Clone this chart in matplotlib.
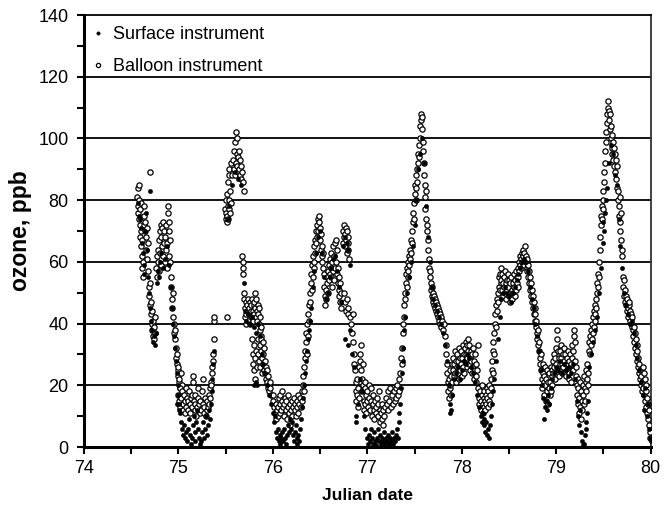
import matplotlib
matplotlib.use("Agg")
import matplotlib.pyplot as plt
from matplotlib.ticker import MultipleLocator

plt.rcParams['font.family'] = ['Liberation Sans', 'DejaVu Sans']

# (Julian date, ozone ppb)
balloon = [
    # first morning cluster
    (74.565, 81), (74.57, 78), (74.572, 84), (74.575, 76), (74.58, 85), (74.58, 80), (74.585, 74),
    (74.588, 72), (74.59, 77), (74.595, 68), (74.60, 79), (74.60, 70), (74.605, 65), (74.61, 62),
    (74.612, 67), (74.615, 58), (74.62, 60), (74.625, 55), (74.63, 75), (74.635, 72), (74.64, 78),
    (74.645, 70), (74.65, 73), (74.655, 68), (74.66, 64), (74.665, 71), (74.67, 61), (74.675, 57),
    (74.68, 66), (74.685, 52), (74.69, 49), (74.695, 53), (74.70, 89), (74.70, 46), (74.705, 43),
    (74.71, 47), (74.715, 40), (74.72, 44), (74.725, 38), (74.73, 41), (74.735, 36), (74.74, 39),
    (74.745, 35), (74.75, 42), (74.755, 37),
    (74.765, 58), (74.77, 62), (74.775, 55), (74.78, 64), (74.785, 60), (74.79, 67), (74.795, 57),
    (74.80, 70), (74.805, 63), (74.81, 72), (74.815, 59), (74.82, 68), (74.825, 65), (74.83, 71),
    (74.835, 62), (74.84, 73), (74.845, 66), (74.85, 70), (74.855, 60), (74.86, 68), (74.865, 64),
    (74.87, 72), (74.875, 58), (74.88, 66), (74.885, 76), (74.89, 78), (74.895, 70), (74.90, 62),
    (74.905, 73), (74.91, 67), (74.915, 60),
    (74.92, 55), (74.925, 52), (74.93, 48), (74.935, 45), (74.94, 50), (74.945, 42), (74.95, 40),
    (74.955, 37), (74.96, 35), (74.965, 38), (74.97, 32), (74.975, 29), (74.98, 27), (74.985, 30),
    (74.99, 25), (74.995, 23), (75.00, 26), (75.005, 21), (75.01, 22), (75.02, 19), (75.03, 24),
    (75.035, 20),
    (75.00, 17), (75.01, 15), (75.015, 19), (75.02, 13), (75.03, 16), (75.04, 18), (75.045, 12),
    (75.05, 14), (75.06, 17), (75.065, 11), (75.07, 15), (75.08, 19), (75.085, 13), (75.09, 16),
    (75.10, 12), (75.105, 15), (75.11, 18), (75.12, 14), (75.125, 11), (75.13, 16), (75.14, 13),
    (75.145, 17), (75.15, 23), (75.155, 21), (75.16, 15), (75.17, 12), (75.175, 14), (75.18, 17),
    (75.19, 10), (75.20, 13), (75.205, 16), (75.21, 19), (75.22, 14), (75.225, 11), (75.23, 15),
    (75.24, 12), (75.25, 18), (75.255, 22), (75.26, 14), (75.27, 11), (75.275, 13), (75.28, 16),
    (75.29, 10), (75.30, 12), (75.305, 15), (75.31, 13), (75.32, 17), (75.325, 14), (75.33, 19),
    (75.335, 16), (75.34, 21), (75.345, 20), (75.35, 24), (75.36, 26), (75.365, 28), (75.37, 30),
    (75.375, 35), (75.38, 41), (75.38, 42), (75.51, 42),
    # second peak
    (75.495, 77), (75.50, 74), (75.50, 80), (75.505, 76), (75.51, 73), (75.51, 82), (75.515, 75),
    (75.52, 78), (75.52, 86), (75.525, 74), (75.53, 77), (75.53, 88), (75.535, 80), (75.54, 90),
    (75.545, 76), (75.55, 83), (75.555, 79), (75.56, 92), (75.565, 88),
    (75.58, 93), (75.585, 90), (75.59, 96), (75.595, 88), (75.60, 99), (75.605, 92), (75.61, 102),
    (75.615, 95), (75.62, 100), (75.625, 91), (75.63, 94), (75.635, 89), (75.64, 96), (75.645, 90),
    (75.65, 93), (75.655, 88), (75.66, 91), (75.665, 87), (75.67, 89), (75.68, 86), (75.69, 83),
    (75.675, 62), (75.68, 60), (75.68, 58), (75.685, 56), (75.69, 48), (75.695, 50),
    (75.70, 45), (75.705, 42), (75.71, 47), (75.715, 43), (75.72, 40), (75.725, 46), (75.73, 44),
    (75.735, 48), (75.74, 41), (75.745, 45), (75.75, 43), (75.755, 47), (75.76, 40), (75.765, 44),
    (75.77, 46), (75.775, 42), (75.78, 48), (75.785, 44), (75.79, 41), (75.795, 46), (75.80, 43),
    (75.805, 47), (75.81, 45), (75.815, 50), (75.82, 42), (75.825, 48), (75.83, 44), (75.835, 41),
    (75.84, 46), (75.845, 43), (75.85, 40), (75.855, 45), (75.86, 38), (75.865, 42), (75.87, 36),
    (75.875, 39),
    (75.78, 35), (75.785, 30), (75.79, 27), (75.795, 33), (75.80, 25), (75.81, 22), (75.815, 29),
    (75.82, 31), (75.83, 26), (75.84, 35), (75.845, 30), (75.85, 28), (75.86, 33), (75.865, 26),
    (75.87, 31), (75.875, 35), (75.88, 29), (75.885, 24), (75.89, 34), (75.895, 27), (75.90, 30),
    (75.905, 25), (75.91, 32), (75.915, 28), (75.92, 24), (75.925, 26), (75.93, 22), (75.935, 25),
    (75.94, 21), (75.945, 19), (75.95, 23), (75.955, 20), (75.96, 18), (75.965, 21), (75.97, 19),
    (75.98, 17),
    (76.00, 15), (76.005, 17), (76.01, 13), (76.02, 11), (76.03, 14), (76.035, 9), (76.04, 12),
    (76.05, 10), (76.055, 13), (76.06, 16), (76.07, 11), (76.075, 14), (76.08, 17), (76.09, 12),
    (76.095, 15), (76.10, 18), (76.11, 13), (76.115, 10), (76.12, 14), (76.13, 16), (76.135, 12),
    (76.14, 15), (76.15, 9), (76.16, 13), (76.165, 17), (76.17, 11), (76.18, 14), (76.185, 7),
    (76.19, 12), (76.20, 15), (76.205, 10), (76.21, 13), (76.22, 16), (76.23, 12), (76.235, 14),
    (76.24, 10), (76.25, 15), (76.26, 13), (76.265, 17), (76.27, 11), (76.28, 14), (76.29, 16),
    (76.30, 13), (76.305, 18), (76.31, 15),
    # third peak
    (76.315, 20), (76.32, 23), (76.325, 18), (76.33, 26), (76.335, 29), (76.345, 31), (76.35, 34),
    (76.355, 37), (76.36, 30), (76.365, 40), (76.37, 36), (76.375, 43), (76.38, 46), (76.385, 41),
    (76.39, 50), (76.395, 47), (76.40, 53), (76.405, 56), (76.41, 51), (76.415, 59), (76.42, 55),
    (76.425, 62), (76.43, 60), (76.435, 65), (76.44, 58), (76.445, 67), (76.45, 63), (76.455, 70),
    (76.46, 66), (76.465, 72), (76.47, 68), (76.475, 74), (76.48, 70), (76.485, 75), (76.49, 73),
    (76.495, 67), (76.50, 71), (76.505, 64), (76.51, 69), (76.515, 62), (76.52, 65), (76.525, 60),
    (76.53, 63), (76.535, 58), (76.54, 56),
    (76.545, 52), (76.55, 49), (76.555, 46), (76.56, 51), (76.565, 48), (76.57, 53), (76.575, 55),
    (76.58, 50), (76.585, 57), (76.59, 54), (76.595, 59), (76.60, 56), (76.605, 61), (76.61, 58),
    (76.615, 63), (76.62, 55), (76.625, 60), (76.63, 52), (76.635, 57), (76.64, 65), (76.645, 54),
    (76.65, 62), (76.655, 58), (76.66, 66), (76.665, 60), (76.67, 67), (76.675, 64), (76.68, 56),
    (76.685, 53), (76.69, 58), (76.695, 51), (76.70, 55), (76.705, 49), (76.71, 53), (76.715, 47),
    (76.72, 45), (76.725, 50),
    (76.74, 66), (76.745, 70), (76.75, 68), (76.755, 72), (76.76, 69), (76.765, 65), (76.77, 71),
    (76.775, 67), (76.78, 70), (76.785, 63), (76.79, 68), (76.795, 64), (76.80, 66), (76.805, 61),
    (76.75, 50), (76.76, 47), (76.77, 44), (76.78, 48), (76.79, 43), (76.80, 45), (76.82, 42),
    (76.83, 40), (76.84, 37), (76.845, 34), (76.85, 43), (76.855, 30), (76.86, 27),
    (76.87, 25), (76.875, 21), (76.88, 18), (76.885, 15), (76.89, 22), (76.895, 17), (76.90, 13),
    (76.905, 19), (76.91, 16), (76.915, 26), (76.92, 30), (76.925, 28), (76.93, 33), (76.935, 25),
    (76.94, 22), (76.945, 18), (76.95, 27), (76.955, 20), (76.96, 15), (76.965, 12), (76.97, 19),
    (76.975, 14), (76.98, 21), (76.985, 17), (76.99, 11), (76.995, 15), (77.00, 18), (77.01, 13),
    (77.015, 20), (77.02, 16), (77.03, 12), (77.035, 19), (77.04, 15), (77.05, 10), (77.055, 14),
    (77.06, 17), (77.07, 12), (77.075, 9), (77.08, 15), (77.09, 11), (77.095, 13), (77.10, 16),
    (77.11, 10), (77.115, 14), (77.12, 18), (77.13, 12), (77.135, 8), (77.14, 11), (77.15, 14),
    (77.16, 9), (77.165, 12), (77.17, 7), (77.18, 10), (77.19, 13), (77.20, 16), (77.21, 14),
    (77.215, 18), (77.22, 12), (77.23, 15), (77.24, 19), (77.25, 13), (77.26, 17), (77.27, 14),
    (77.28, 18), (77.29, 15), (77.30, 19), (77.305, 16), (77.31, 20), (77.32, 17), (77.33, 22),
    (77.34, 18),
    # fourth peak
    (77.35, 24), (77.36, 29), (77.365, 27), (77.37, 32), (77.375, 37), (77.38, 40), (77.385, 42),
    (77.39, 46), (77.395, 50), (77.40, 48), (77.405, 53), (77.41, 56), (77.415, 52), (77.42, 58),
    (77.425, 55), (77.43, 60), (77.435, 57), (77.44, 62), (77.445, 59), (77.45, 64), (77.455, 61),
    (77.46, 67), (77.465, 63), (77.47, 70), (77.475, 66), (77.48, 73), (77.485, 76), (77.49, 79),
    (77.495, 74), (77.50, 82), (77.505, 85), (77.51, 80), (77.515, 88), (77.52, 84), (77.525, 90),
    (77.53, 86), (77.535, 92), (77.54, 95), (77.545, 98), (77.55, 94), (77.555, 100), (77.56, 104),
    (77.565, 106), (77.57, 108), (77.575, 103), (77.58, 107), (77.585, 99), (77.59, 96),
    (77.595, 92), (77.60, 88), (77.605, 85), (77.61, 81), (77.615, 77), (77.62, 83), (77.625, 74),
    (77.63, 70), (77.635, 72), (77.64, 67), (77.645, 64), (77.65, 61), (77.655, 58), (77.66, 55),
    (77.665, 57), (77.67, 53), (77.675, 51), (77.68, 49), (77.685, 52), (77.69, 48), (77.695, 50),
    (77.70, 47), (77.705, 49), (77.71, 46), (77.715, 48), (77.72, 45), (77.725, 47), (77.73, 44),
    (77.735, 46), (77.74, 43), (77.745, 45), (77.75, 42), (77.755, 44), (77.76, 41), (77.765, 43),
    (77.77, 40), (77.775, 42), (77.78, 39), (77.79, 41), (77.80, 38), (77.81, 40), (77.82, 36),
    (77.83, 33), (77.835, 30), (77.84, 27), (77.845, 24), (77.85, 21),
    (77.855, 18), (77.86, 16), (77.865, 22), (77.87, 19), (77.875, 25), (77.88, 20), (77.885, 17),
    (77.89, 23), (77.895, 27), (77.90, 21), (77.905, 25), (77.91, 29), (77.915, 23), (77.92, 27),
    (77.925, 31), (77.93, 24), (77.935, 28), (77.94, 21), (77.945, 26), (77.95, 30), (77.955, 24),
    (77.96, 28), (77.965, 32), (77.97, 26), (77.975, 22), (77.98, 29), (77.985, 25), (77.99, 31),
    (77.995, 27), (78.00, 23), (78.005, 29), (78.01, 33), (78.015, 26), (78.02, 30), (78.025, 24),
    (78.03, 32), (78.035, 28), (78.04, 34), (78.045, 30), (78.05, 26), (78.055, 33), (78.06, 29),
    (78.065, 35), (78.07, 31), (78.075, 27), (78.08, 33), (78.085, 29), (78.09, 25), (78.095, 31),
    (78.10, 28), (78.105, 24), (78.11, 30), (78.115, 26), (78.12, 32), (78.125, 22), (78.13, 28),
    (78.135, 25), (78.14, 30), (78.145, 23), (78.15, 27), (78.155, 21), (78.16, 25), (78.17, 33),
    (78.175, 19), (78.18, 16), (78.185, 14), (78.19, 18), (78.20, 15), (78.205, 12), (78.21, 17),
    (78.215, 20), (78.22, 14), (78.225, 11), (78.23, 16), (78.235, 13), (78.24, 18), (78.245, 15),
    (78.25, 12), (78.255, 17), (78.26, 14), (78.265, 19), (78.27, 16), (78.275, 13), (78.28, 18),
    (78.285, 15), (78.29, 20), (78.295, 17), (78.30, 14), (78.305, 19), (78.31, 22),
    # fifth peak
    (78.315, 25), (78.32, 28), (78.325, 24), (78.33, 31), (78.335, 34), (78.34, 30), (78.345, 37),
    (78.35, 40), (78.355, 43), (78.36, 39), (78.365, 46), (78.37, 44), (78.375, 48), (78.38, 50),
    (78.385, 47), (78.39, 52), (78.395, 55), (78.40, 51), (78.405, 56), (78.41, 53), (78.415, 58),
    (78.42, 54), (78.425, 51), (78.43, 56), (78.435, 53), (78.44, 49),
    (78.445, 52), (78.45, 55), (78.455, 50), (78.46, 57), (78.465, 53), (78.47, 48), (78.475, 54),
    (78.48, 51), (78.485, 56), (78.49, 52), (78.495, 49), (78.50, 54), (78.505, 50), (78.51, 47),
    (78.515, 53), (78.52, 49), (78.525, 55), (78.53, 51), (78.535, 48), (78.54, 53), (78.545, 50),
    (78.55, 56), (78.555, 52), (78.56, 49), (78.565, 54), (78.57, 51), (78.575, 57), (78.58, 53),
    (78.585, 55), (78.59, 52), (78.595, 58), (78.60, 55), (78.605, 60), (78.61, 57), (78.615, 62),
    (78.62, 59), (78.625, 61), (78.63, 58), (78.635, 63), (78.64, 60), (78.645, 64), (78.65, 62),
    (78.655, 59), (78.66, 63), (78.665, 61), (78.67, 65), (78.675, 62), (78.68, 60), (78.685, 58),
    (78.69, 61), (78.695, 57), (78.70, 59), (78.705, 55), (78.71, 57), (78.715, 53), (78.72, 55),
    (78.725, 51), (78.73, 53), (78.735, 49), (78.74, 51), (78.745, 47), (78.75, 49), (78.755, 45),
    (78.76, 47), (78.765, 43), (78.77, 45), (78.775, 41), (78.78, 43), (78.785, 39), (78.79, 41),
    (78.795, 37), (78.80, 35), (78.805, 38), (78.81, 33), (78.815, 31), (78.82, 34), (78.825, 29),
    (78.83, 27), (78.835, 30),
    (78.84, 25), (78.845, 22), (78.85, 19), (78.855, 24), (78.86, 27), (78.865, 21), (78.87, 17),
    (78.875, 23), (78.88, 26), (78.885, 20), (78.89, 15), (78.895, 22), (78.90, 18), (78.905, 25),
    (78.91, 21), (78.915, 14), (78.92, 19), (78.925, 24), (78.93, 17), (78.935, 21), (78.94, 26),
    (78.945, 18), (78.95, 23), (78.955, 20), (78.96, 25),
    (78.965, 28), (78.97, 24), (78.975, 30), (78.98, 26), (78.985, 22), (78.99, 29), (78.995, 32),
    (79.00, 27), (79.005, 35), (79.01, 38), (79.015, 31), (79.02, 25), (79.025, 29), (79.03, 23),
    (79.035, 27), (79.04, 31), (79.045, 25), (79.05, 29), (79.055, 33), (79.06, 27), (79.065, 24),
    (79.07, 30), (79.075, 26), (79.08, 32), (79.085, 28), (79.09, 24), (79.095, 30), (79.10, 27),
    (79.105, 23), (79.11, 29), (79.115, 25), (79.12, 31), (79.125, 27), (79.13, 22), (79.135, 28),
    (79.14, 24), (79.145, 30), (79.15, 26), (79.155, 21), (79.16, 27), (79.165, 33), (79.17, 29),
    (79.175, 25), (79.18, 31), (79.185, 36), (79.19, 38), (79.195, 34), (79.20, 28), (79.205, 23),
    (79.21, 26),
    (79.215, 20), (79.22, 17), (79.225, 22), (79.23, 14), (79.235, 19), (79.24, 11), (79.245, 16),
    (79.25, 21), (79.255, 13), (79.26, 18), (79.265, 9), (79.27, 15), (79.275, 12), (79.28, 20),
    (79.285, 17), (79.29, 14), (79.295, 23), (79.30, 19), (79.305, 15), (79.31, 21), (79.315, 25),
    (79.32, 18), (79.325, 22), (79.33, 27), (79.335, 24), (79.34, 20),
    # sixth peak
    (79.345, 31), (79.35, 34), (79.355, 30), (79.36, 36), (79.365, 33), (79.37, 38), (79.375, 35),
    (79.38, 40), (79.385, 37), (79.39, 42), (79.395, 39), (79.40, 44), (79.405, 41), (79.41, 46),
    (79.415, 43), (79.42, 48), (79.425, 45), (79.43, 50), (79.435, 53), (79.44, 56), (79.445, 52),
    (79.45, 55), (79.455, 60), (79.46, 64), (79.465, 68), (79.47, 72), (79.475, 75), (79.48, 78),
    (79.485, 74), (79.49, 80), (79.495, 77), (79.50, 83), (79.505, 86), (79.51, 89), (79.515, 92),
    (79.52, 96), (79.525, 99), (79.53, 102), (79.535, 105), (79.54, 108), (79.545, 110),
    (79.55, 112), (79.555, 109), (79.56, 106), (79.565, 103), (79.57, 108), (79.575, 100),
    (79.58, 104), (79.585, 97), (79.59, 101), (79.595, 95), (79.60, 99), (79.605, 93), (79.61, 97),
    (79.615, 91), (79.62, 95), (79.625, 89), (79.63, 93), (79.635, 87), (79.64, 91), (79.645, 84),
    (79.65, 80), (79.655, 83), (79.66, 78), (79.665, 75), (79.67, 81), (79.675, 73), (79.68, 70),
    (79.685, 76), (79.69, 67), (79.695, 64), (79.70, 62),
    (79.705, 55), (79.71, 52), (79.715, 49), (79.72, 54), (79.725, 47), (79.73, 51), (79.735, 46),
    (79.74, 49), (79.745, 44), (79.75, 48), (79.755, 45), (79.76, 42), (79.765, 46), (79.77, 43),
    (79.775, 47), (79.78, 41), (79.785, 44), (79.79, 40), (79.795, 43), (79.80, 39), (79.805, 42),
    (79.81, 38), (79.815, 36), (79.82, 39), (79.825, 34), (79.83, 37), (79.835, 32), (79.84, 35),
    (79.845, 30), (79.85, 33), (79.855, 28), (79.86, 31), (79.865, 26), (79.87, 29), (79.875, 24),
    (79.88, 27), (79.885, 22), (79.89, 25), (79.895, 20), (79.90, 23), (79.905, 18), (79.91, 21),
    (79.915, 26), (79.92, 19), (79.925, 24), (79.93, 17), (79.935, 22), (79.94, 15), (79.945, 20),
    (79.95, 13), (79.955, 18), (79.96, 11), (79.965, 16), (79.97, 9), (79.975, 14), (79.98, 7),
    (79.985, 12), (79.99, 5), (79.995, 3),
]

surface = [
    (74.57, 79), (74.58, 75), (74.59, 74), (74.60, 71), (74.61, 66), (74.62, 63), (74.63, 59),
    (74.64, 56), (74.65, 70), (74.66, 76), (74.67, 64), (74.68, 55), (74.69, 50), (74.70, 83),
    (74.70, 45), (74.71, 41), (74.72, 38), (74.73, 34), (74.74, 36), (74.75, 33), (74.76, 37),
    (74.77, 53), (74.78, 57), (74.79, 55), (74.80, 60), (74.82, 63), (74.84, 58), (74.86, 61),
    (74.88, 65), (74.90, 59), (74.92, 52), (74.93, 45), (74.94, 40), (74.95, 36), (74.96, 32),
    (74.97, 28), (74.98, 24), (74.99, 20), (74.985, 14), (75.00, 17), (75.005, 12), (75.01, 14),
    (75.02, 11), (75.03, 8), (75.04, 6), (75.05, 4), (75.06, 7), (75.07, 3), (75.08, 5), (75.09, 2),
    (75.10, 6), (75.11, 9), (75.12, 4), (75.13, 1), (75.14, 3), (75.15, 7), (75.16, 10), (75.17, 5),
    (75.18, 2), (75.19, 8), (75.20, 12), (75.21, 6), (75.22, 3), (75.23, 1), (75.24, 2), (75.25, 5),
    (75.26, 8), (75.27, 3), (75.28, 6), (75.29, 10), (75.30, 4), (75.31, 7), (75.32, 12), (75.33, 9),
    (75.34, 14), (75.35, 18), (75.36, 22), (75.37, 27), (75.375, 31),
    (75.52, 74), (75.54, 78), (75.57, 85), (75.60, 89), (75.63, 87), (75.66, 85),
    (75.69, 53), (75.70, 44), (75.72, 41), (75.74, 43), (75.76, 40), (75.78, 42), (75.80, 39),
    (75.82, 37), (75.84, 40), (75.86, 36), (75.80, 20), (75.82, 21), (75.83, 20), (75.88, 30),
    (75.90, 27), (75.92, 24), (75.94, 20), (75.96, 17), (75.98, 14), (76.00, 11), (76.01, 8),
    (76.02, 10), (76.03, 5), (76.04, 3), (76.05, 6), (76.06, 2), (76.07, 4), (76.08, 1), (76.09, 3),
    (76.10, 5), (76.11, 2), (76.12, 6), (76.13, 3), (76.14, 1), (76.15, 4), (76.16, 7), (76.17, 5),
    (76.18, 9), (76.19, 6), (76.20, 8), (76.21, 4), (76.22, 2), (76.23, 5), (76.24, 7), (76.25, 3),
    (76.26, 1), (76.27, 4), (76.28, 2), (76.29, 6), (76.30, 9), (76.31, 13), (76.32, 16),
    (76.33, 20), (76.34, 24), (76.35, 28), (76.36, 31), (76.37, 35), (76.38, 38), (76.39, 41),
    (76.40, 45), (76.42, 52), (76.44, 57), (76.46, 63), (76.48, 68), (76.50, 70), (76.52, 63),
    (76.54, 55), (76.56, 48), (76.58, 50), (76.60, 55), (76.62, 58), (76.64, 61), (76.66, 62),
    (76.68, 57), (76.70, 52), (76.72, 47), (76.74, 65), (76.76, 68), (76.78, 66), (76.80, 64),
    (76.82, 59), (76.76, 35), (76.79, 33), (76.82, 38), (76.84, 30), (76.86, 26), (76.88, 10),
    (76.885, 8), (76.90, 14), (76.92, 22), (76.94, 18), (76.96, 10), (76.98, 6), (77.00, 3),
    (77.01, 1), (77.02, 4), (77.03, 2), (77.04, 6), (77.05, 3), (77.06, 1), (77.07, 5), (77.08, 2),
    (77.09, 0.5), (77.10, 3), (77.11, 6), (77.12, 2), (77.13, 4), (77.14, 1), (77.15, 3),
    (77.16, 0.5), (77.17, 2), (77.18, 5), (77.19, 1), (77.20, 3), (77.21, 2), (77.22, 4), (77.23, 1),
    (77.24, 3), (77.25, 2), (77.26, 5), (77.27, 1), (77.28, 3), (77.29, 2), (77.30, 4), (77.31, 6),
    (77.32, 3), (77.33, 8), (77.34, 11), (77.35, 14), (77.36, 19), (77.37, 24), (77.375, 28),
    (77.38, 32), (77.39, 38), (77.40, 42), (77.42, 50), (77.44, 55), (77.46, 60), (77.48, 65),
    (77.50, 72), (77.52, 80), (77.54, 90), (77.56, 95), (77.58, 100), (77.60, 92), (77.62, 78),
    (77.64, 68), (77.66, 60), (77.68, 52), (77.70, 48), (77.72, 46), (77.74, 44), (77.76, 42),
    (77.78, 40), (77.80, 37), (77.82, 33), (77.84, 28), (77.86, 20), (77.87, 14), (77.88, 11),
    (77.89, 12), (77.90, 17), (77.92, 22), (77.94, 24), (77.96, 26), (77.98, 22), (78.00, 25),
    (78.02, 28), (78.04, 27), (78.06, 30), (78.08, 29), (78.10, 26), (78.12, 24), (78.14, 21),
    (78.16, 17), (78.18, 13), (78.20, 10), (78.21, 8), (78.22, 11), (78.23, 7), (78.24, 9),
    (78.25, 5), (78.26, 8), (78.27, 4), (78.28, 6), (78.29, 3), (78.30, 7), (78.31, 10),
    (78.32, 14), (78.33, 18), (78.34, 22), (78.36, 28), (78.38, 35), (78.40, 42), (78.42, 48),
    (78.44, 50), (78.46, 52), (78.48, 50), (78.50, 49), (78.52, 47), (78.54, 50), (78.56, 52),
    (78.58, 54), (78.60, 56), (78.62, 58), (78.64, 60), (78.66, 61), (78.68, 60), (78.70, 57),
    (78.72, 52), (78.74, 48), (78.76, 45), (78.78, 40), (78.80, 36), (78.82, 31), (78.84, 25),
    (78.85, 20), (78.86, 16), (78.87, 9), (78.88, 13), (78.89, 15), (78.90, 12), (78.91, 17),
    (78.92, 14), (78.94, 19), (78.96, 22), (78.98, 24), (79.00, 26), (79.02, 25), (79.04, 28),
    (79.06, 24), (79.08, 27), (79.10, 25), (79.12, 23), (79.14, 26), (79.16, 24), (79.18, 27),
    (79.20, 22), (79.22, 15), (79.23, 10), (79.24, 7), (79.25, 12), (79.26, 5), (79.27, 2),
    (79.28, 0.5), (79.29, 1), (79.30, 4), (79.31, 8), (79.32, 6), (79.33, 11), (79.34, 15),
    (79.35, 26), (79.37, 30), (79.39, 34), (79.41, 38), (79.43, 42), (79.45, 50), (79.47, 58),
    (79.49, 66), (79.50, 73), (79.51, 70), (79.52, 76), (79.53, 80), (79.54, 84), (79.56, 92),
    (79.58, 98), (79.60, 95), (79.62, 88), (79.64, 85), (79.66, 74), (79.68, 65), (79.70, 58),
    (79.72, 50), (79.74, 46), (79.76, 43), (79.78, 40), (79.80, 41), (79.82, 37), (79.84, 33),
    (79.86, 29), (79.88, 25), (79.90, 21), (79.92, 17), (79.93, 12), (79.94, 19), (79.96, 10),
    (79.97, 14), (79.98, 6), (79.99, 3), (80.00, 2),
]

surface_day = [p[0] for p in surface]
surface_ppb = [p[1] for p in surface]
balloon_day = [p[0] for p in balloon]
balloon_ppb = [p[1] for p in balloon]

fig = plt.figure(figsize=(6.64, 5.11), dpi=100)
ax = fig.add_axes([0.1265, 0.1252, 0.8535, 0.8454])

for yv in [20, 40, 60, 80, 100, 120]:
    ax.axhline(yv, color='black', lw=1.3, zorder=1)

ax.plot(surface_day, surface_ppb, linestyle='none', marker='o', ms=3.0,
        mfc='black', mec='black', mew=0.4, label='Surface instrument', zorder=5)
ax.plot(balloon_day, balloon_ppb, linestyle='none', marker='o', ms=3.8,
        mfc='white', mec='black', mew=0.9, label='Balloon instrument', zorder=4)

ax.set_xlim(74, 80)
ax.set_ylim(0, 140)
ax.xaxis.set_major_locator(MultipleLocator(1))
ax.xaxis.set_minor_locator(MultipleLocator(0.5))
ax.yaxis.set_major_locator(MultipleLocator(20))
ax.yaxis.set_minor_locator(MultipleLocator(10))
ax.tick_params(which='both', direction='out', width=1.5, length=5, labelsize=13)
ax.tick_params(axis='x', pad=4)
ax.tick_params(axis='y', pad=6)

ax.spines['left'].set_linewidth(2.2)
ax.spines['bottom'].set_linewidth(2.2)
ax.spines['top'].set_linewidth(1.3)
ax.spines['right'].set_linewidth(1.3)
ax.spines['right'].set_color('#333333')

ax.set_xlabel('Julian date', fontsize=12.5, fontweight='bold', labelpad=8)
ax.set_ylabel('ozone, ppb', fontsize=16.5, fontweight='bold', labelpad=5)

leg = ax.legend(loc='upper left', frameon=False, fontsize=13, handlelength=0.3,
                handletextpad=0.7, labelspacing=0.85, borderaxespad=0.2,
                markerscale=0.8)

fig.savefig('out.png', dpi=100)
